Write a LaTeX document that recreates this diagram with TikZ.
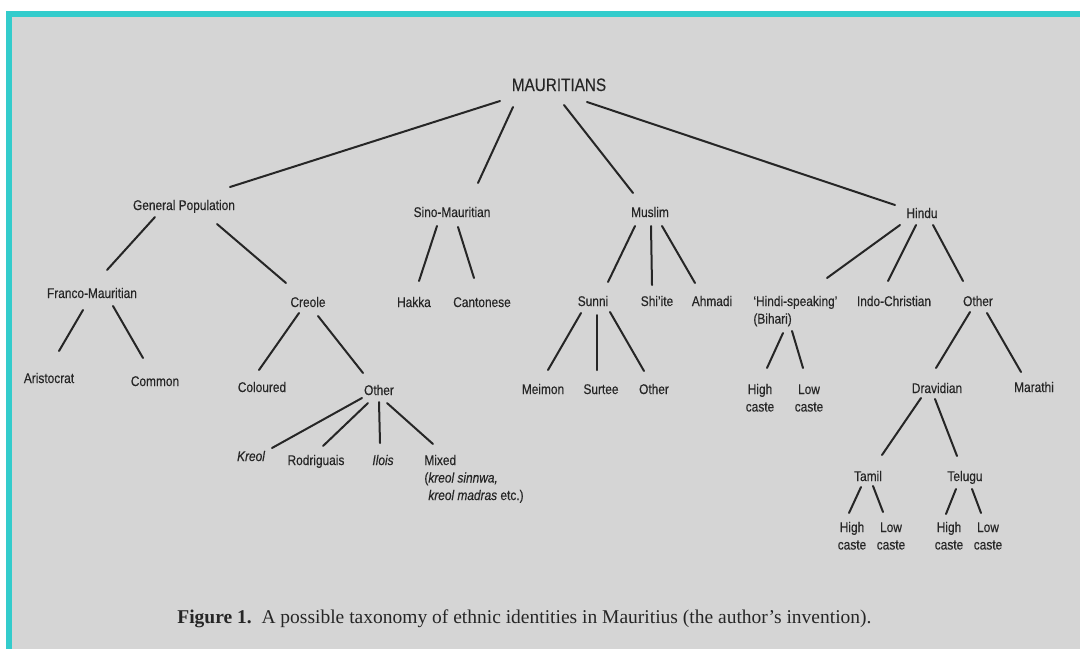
\documentclass[tikz,border=0pt]{standalone}
\usepackage{fontspec}
\setmainfont{Liberation Serif}
\newfontfamily\lab[FakeStretch=0.85,FakeBold=0.3]{Liberation Sans}
\definecolor{framecol}{HTML}{33CCCC}
\definecolor{paper}{HTML}{D5D5D5}
\definecolor{ink}{HTML}{262626}
\newcommand\twoline[3][c]{\begin{tabular}[t]{@{}#1@{}}#2\\#3\end{tabular}}
\newcommand\threeline[3]{\begin{tabular}[t]{@{}l@{}}#1\\#2\\#3\end{tabular}}
\begin{document}
\begin{tikzpicture}[x=0.5pt,y=-0.5pt,
  lbl/.style={font=\lab\fontsize{7}{8.75}\selectfont, text=ink, inner sep=0pt, anchor=base},
  lblw/.style={lbl, anchor=base west},
  toplbl/.style={lbl, font=\lab\fontsize{9}{11}\selectfont},
  edge/.style={draw=ink, line width=1pt, line cap=round}]
\fill[white] (0,0) rectangle (1080,649);
\fill[framecol] (6,11) rectangle (1080,649);
\fill[paper] (12,17) rectangle (1080,649);
\useasboundingbox (0,0) rectangle (1080,649);

% nodes
\node[toplbl] (m) at (559,91) {MAURITIANS};
\node[lbl] (gp) at (184,210) {General Population};
\node[lbl] (sino) at (452,217) {Sino-Mauritian};
\node[lbl] (mus) at (650,217) {Muslim};
\node[lbl] (hin) at (922,218) {Hindu};
\node[lbl] (fm) at (92,298) {Franco-Mauritian};
\node[lbl] (cre) at (308,307) {Creole};
\node[lbl] (hak) at (414,307) {Hakka};
\node[lbl] (can) at (482,307) {Cantonese};
\node[lbl] (sun) at (593,306) {Sunni};
\node[lbl] (shi) at (657,306) {Shi’ite};
\node[lbl] (ahm) at (712,306) {Ahmadi};
\node[lblw] (bih) at (753,306) {\twoline[l]{‘Hindi-speaking’}{(Bihari)}};
\node[lbl] (ic) at (894,306) {Indo-Christian};
\node[lbl] (oth) at (978,306) {Other};
\node[lbl] (ari) at (49,383) {Aristocrat};
\node[lbl] (com) at (155,386) {Common};
\node[lbl] (col) at (262,392) {Coloured};
\node[lbl] (co) at (379,395) {Other};
\node[lbl] (kre) at (251,461) {\itshape Kreol};
\node[lbl] (rod) at (316,465) {Rodriguais};
\node[lbl] (ilo) at (383,465) {\itshape Ilois};
\node[lblw] (mix) at (424,465) {\threeline{Mixed}{(\textit{kreol sinnwa,}}{\hphantom{(}\textit{kreol madras} etc.)}};
\node[lbl] (mei) at (543,394) {Meimon};
\node[lbl] (sur) at (601,394) {Surtee};
\node[lbl] (so) at (654,394) {Other};
\node[lbl] (bh) at (760,394) {\twoline{High}{caste}};
\node[lbl] (bl) at (809,394) {\twoline{Low}{caste}};
\node[lbl] (dra) at (937,393) {Dravidian};
\node[lbl] (mar) at (1034,392) {Marathi};
\node[lbl] (tam) at (868,481) {Tamil};
\node[lbl] (tel) at (965,481) {Telugu};
\node[lbl] (th) at (852,532) {\twoline{High}{caste}};
\node[lbl] (tl) at (891,532) {\twoline{Low}{caste}};
\node[lbl] (eh) at (949,532) {\twoline{High}{caste}};
\node[lbl] (el) at (988,532) {\twoline{Low}{caste}};
\node[anchor=base west, inner sep=0pt, text=ink, font=\fontsize{9.75}{12}\selectfont] (cap) at (177,623)
  {\textbf{Figure 1.}\enspace A possible taxonomy of ethnic identities in Mauritius (the author’s invention).};

% edges
\draw[edge] ([shift={(-59,10)}]m.base) -- ([shift={(46,-23)}]gp.base);
\draw[edge] ([shift={(-46,16)}]m.base) -- ([shift={(26,-34)}]sino.base);
\draw[edge] ([shift={(5,14)}]m.base) -- ([shift={(-17,-24)}]mus.base);
\draw[edge] ([shift={(28,11)}]m.base) -- ([shift={(-27,-13)}]hin.base);
\draw[edge] ([shift={(-29,7)}]gp.base) -- ([shift={(15,-28)}]fm.base);
\draw[edge] ([shift={(33,14)}]gp.base) -- ([shift={(-22,-24)}]cre.base);
\draw[edge] ([shift={(-15,9)}]sino.base) -- ([shift={(5,-26)}]hak.base);
\draw[edge] ([shift={(6,10)}]sino.base) -- ([shift={(-8,-29)}]can.base);
\draw[edge] ([shift={(-15,9)}]mus.base) -- ([shift={(15,-24)}]sun.base);
\draw[edge] ([shift={(1,9)}]mus.base) -- ([shift={(-5,-21)}]shi.base);
\draw[edge] ([shift={(12,9)}]mus.base) -- ([shift={(-17,-23)}]ahm.base);
\draw[edge] ([shift={(-22,7)}]hin.base) -- ([shift={(74,-28)}]bih.base west);
\draw[edge] ([shift={(-6,7)}]hin.base) -- ([shift={(-6,-25)}]ic.base);
\draw[edge] ([shift={(11,7)}]hin.base) -- ([shift={(-15,-25)}]oth.base);
\draw[edge] ([shift={(-9,12)}]fm.base) -- ([shift={(10,-32)}]ari.base);
\draw[edge] ([shift={(21,8)}]fm.base) -- ([shift={(-12,-28)}]com.base);
\draw[edge] ([shift={(-9,6)}]cre.base) -- ([shift={(-3,-22)}]col.base);
\draw[edge] ([shift={(10,9)}]cre.base) -- ([shift={(-16,-22)}]co.base);
\draw[edge] ([shift={(-17,3)}]co.base) -- ([shift={(21,-13)}]kre.base);
\draw[edge] ([shift={(-11,8)}]co.base) -- ([shift={(7,-19)}]rod.base);
\draw[edge] ([shift={(0,7)}]co.base) -- ([shift={(-3,-22)}]ilo.base);
\draw[edge] ([shift={(8,8)}]co.base) -- ([shift={(9,-21)}]mix.base west);
\draw[edge] ([shift={(-12,7)}]sun.base) -- ([shift={(5,-24)}]mei.base);
\draw[edge] ([shift={(4,9)}]sun.base) -- ([shift={(-4,-24)}]sur.base);
\draw[edge] ([shift={(17,6)}]sun.base) -- ([shift={(-10,-23)}]so.base);
\draw[edge] ([shift={(30,27)}]bih.base west) -- ([shift={(7,-26)}]bh.base);
\draw[edge] ([shift={(39,25)}]bih.base west) -- ([shift={(-6,-26)}]bl.base);
\draw[edge] ([shift={(-8,6)}]oth.base) -- ([shift={(-1,-25)}]dra.base);
\draw[edge] ([shift={(9,7)}]oth.base) -- ([shift={(-13,-20)}]mar.base);
\draw[edge] ([shift={(-16,5)}]dra.base) -- ([shift={(14,-26)}]tam.base);
\draw[edge] ([shift={(-2,6)}]dra.base) -- ([shift={(-8,-25)}]tel.base);
\draw[edge] ([shift={(-7,6)}]tam.base) -- ([shift={(-3,-19)}]th.base);
\draw[edge] ([shift={(5,5)}]tam.base) -- ([shift={(-8,-20)}]tl.base);
\draw[edge] ([shift={(-9,8)}]tel.base) -- ([shift={(-3,-18)}]eh.base);
\draw[edge] ([shift={(7,8)}]tel.base) -- ([shift={(-7,-19)}]el.base);
\end{tikzpicture}
\end{document}
